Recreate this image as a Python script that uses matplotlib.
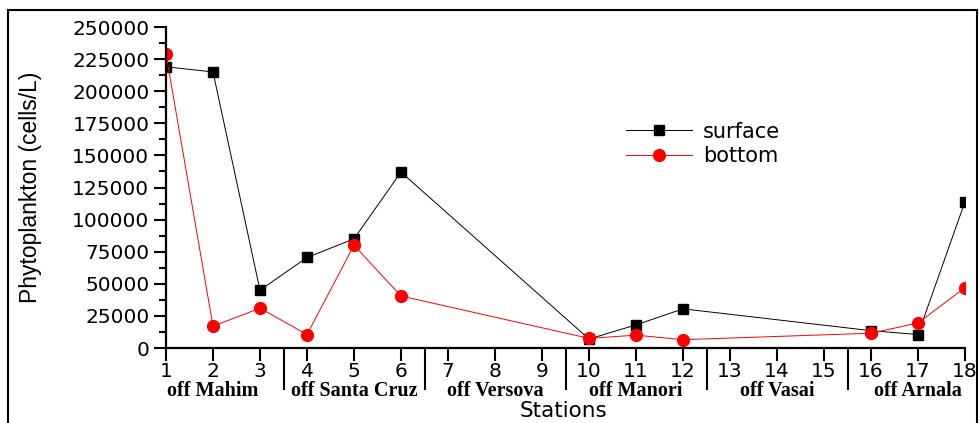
import matplotlib
matplotlib.use("Agg")
import matplotlib.pyplot as plt
from matplotlib.patches import Rectangle
import matplotlib.transforms as mtransforms

# phytoplankton counts (cells/L) per station
stations = [1, 2, 3, 4, 5, 6, 10, 11, 12, 16, 17, 18]
surface = [219000, 215000, 45000, 70500, 85000, 137000, 7000, 18000, 30500, 13500, 10500, 114000]
bottom = [229000, 17000, 31000, 10500, 80000, 40500, 7500, 10000, 6500, 11500, 19500, 47000]

areas = ["off Mahim", "off Santa Cruz", "off Versova", "off Manori", "off Vasai", "off Arnala"]
area_centres = [2, 5, 8, 11, 14, 17]
area_breaks = [3.5, 6.5, 9.5, 12.5, 15.5]

fig = plt.figure(figsize=(9.8, 4.23), dpi=100)
ax = fig.add_axes([166 / 980, 1 - 348 / 423, (965 - 166) / 980, (348 - 27) / 423])

ax.plot(stations, surface, color="black", lw=0.7, marker="s", ms=7,
        mfc="black", mec="black", label="surface")
ax.plot(stations, bottom, color="red", lw=0.7, marker="o", ms=8.5,
        mfc="red", mec="red", label="bottom")

ax.set_xlim(1, 18)
ax.set_ylim(0, 250000)
ax.set_xticks(range(1, 19))
ax.set_xticks(area_breaks, minor=True)
ax.set_yticks(range(0, 250001, 25000))
ax.set_yticks(range(12500, 250000, 25000), minor=True)

for s in ("top", "right"):
    ax.spines[s].set_visible(False)
for s in ("left", "bottom"):
    ax.spines[s].set_linewidth(1.6)

ax.tick_params(axis="both", which="major", direction="out", length=9, width=1.5,
               labelsize=14.5)
ax.tick_params(axis="x", which="major", pad=1)
ax.tick_params(axis="y", which="major", pad=3)
ax.tick_params(axis="y", which="minor", direction="out", length=5, width=1.5)
ax.tick_params(axis="x", which="minor", direction="out", length=30, width=1.5)
for lab in ax.get_xticklabels() + ax.get_yticklabels():
    lab.set_family("DejaVu Sans")

ax.set_ylabel("Phytoplankton (cells/L)", family="Liberation Sans",
              fontsize=16.5, labelpad=22)

# area names under the station numbers
trans = mtransforms.blended_transform_factory(ax.transData, fig.transFigure)
for name, c in zip(areas, area_centres):
    fig.text(c, 1 - 391 / 423, name, transform=trans, ha="center", va="center",
             family="Liberation Serif", fontweight="bold", fontsize=14.5)
fig.text(563 / 980, 1 - 411 / 423, "Stations", ha="center", va="center",
         family="DejaVu Sans", fontsize=15.5)

ax.legend(loc="upper left", bbox_to_anchor=(607 / 980, 1 - 103 / 423),
          bbox_transform=fig.transFigure, frameon=False,
          handlelength=3.2, handletextpad=0.5, labelspacing=0.2,
          prop={"family": "DejaVu Sans", "size": 15})

# frame around the whole figure
fig.patches.append(Rectangle((8 / 980, -0.02), (977 - 8) / 980, 1 - 10 / 423 + 0.02,
                             transform=fig.transFigure, fill=False,
                             edgecolor="black", lw=1.5))

fig.savefig("out.png", dpi=100)
